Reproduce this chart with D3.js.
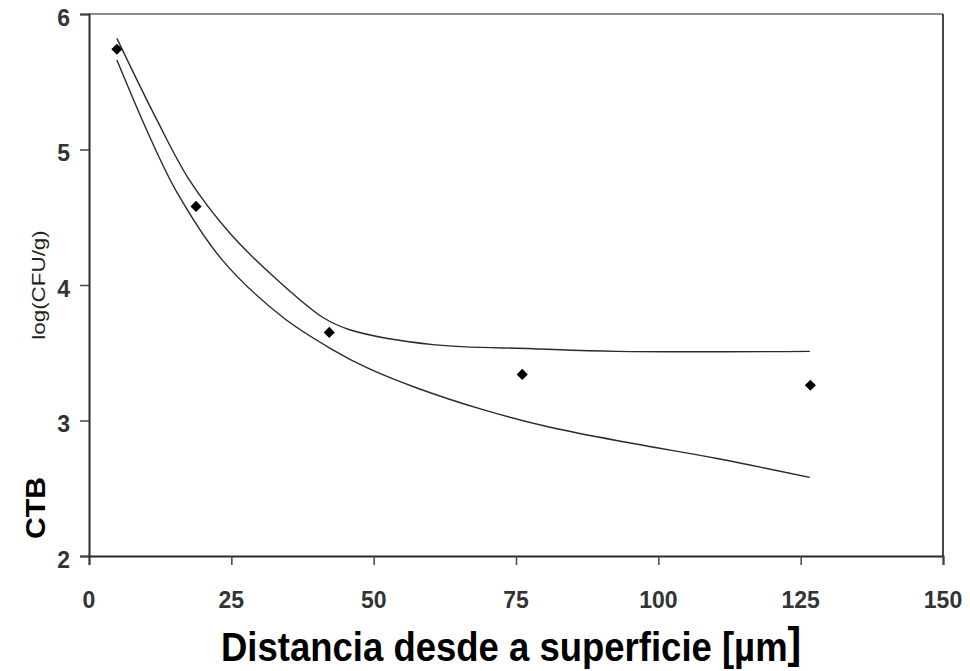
<!DOCTYPE html>
<html><head><meta charset="utf-8">
<script src="https://cdn.jsdelivr.net/npm/d3@7"></script>
<style>body{margin:0;background:#fff}svg{display:block}</style>
</head><body><svg id="c" width="970" height="671"></svg>
<script>
const xTicks = [0, 25, 50, 75, 100, 125, 150];
const yTicks = [2, 3, 4, 5, 6];
const pointX = [4.9, 18.8, 42.2, 76.1, 126.7];
const pointY = [5.74, 4.58, 3.65, 3.34, 3.26];
const upperX = [4.9, 11.9, 17.7, 24.8, 33.0, 41.1, 45.8, 60.4, 78.0, 92.7, 126.6];
const upperY = [5.82, 5.22, 4.77, 4.38, 4.04, 3.76, 3.67, 3.56, 3.53, 3.51, 3.51];
const lowerX = [4.9, 10.7, 15.5, 23.5, 34.1, 42.9, 48.8, 57.6, 69.2, 81.0, 95.6, 110.3, 126.6];
const lowerY = [5.66, 5.09, 4.68, 4.18, 3.76, 3.52, 3.39, 3.24, 3.08, 2.95, 2.83, 2.72, 2.58];
const xTitle = "Distancia desde a superficie [µm";
const yTitle = "log(CFU/g)";
const sideLabel = "CTB";

const svg = d3.select("#c");
const x = d3.scaleLinear().domain([0,150]).range([89,943]);
const y = d3.scaleLinear().domain([2,6]).range([556,14]);
const ink = "#2a2a2a";
const FF = "Liberation Sans, Arial, sans-serif";
const SY = 1.08;

// frame
svg.append("line").attr("x1",89).attr("x2",943).attr("y1",14).attr("y2",14).attr("stroke","#666").attr("stroke-width",1.5);
svg.append("line").attr("x1",943).attr("x2",943).attr("y1",14).attr("y2",556).attr("stroke","#333").attr("stroke-width",1.8);

const xa = svg.append("g").attr("transform","translate(0,556)")
  .call(d3.axisBottom(x).tickValues(xTicks).tickSize(9).tickFormat(""));
const ya = svg.append("g").attr("transform","translate(89,0)")
  .call(d3.axisLeft(y).tickValues(yTicks).tickSize(9).tickFormat(""));
[xa,ya].forEach(a=>{
  a.select(".domain").attr("stroke",ink).attr("stroke-width",2);
  a.selectAll(".tick line").attr("stroke","#444").attr("stroke-width",1.5);
});

svg.selectAll("text.xl").data(xTicks).enter().append("text").attr("class","xl")
  .attr("transform", d=>`translate(${x(d)},599) scale(1,${SY})`)
  .attr("text-anchor","middle").attr("dy","0.36em")
  .style("font-family",FF).style("font-size","23px").style("font-weight","bold").attr("fill","#333")
  .text(d=>d);
svg.selectAll("text.yl").data(yTicks).enter().append("text").attr("class","yl")
  .attr("transform", d=>`translate(70,${y(d)+3}) scale(1,${SY})`)
  .attr("text-anchor","end").attr("dy","0.36em")
  .style("font-family",FF).style("font-size","23px").style("font-weight","bold").attr("fill","#333")
  .text(d=>d);

const line = d3.line().curve(d3.curveCatmullRom.alpha(0.5)).x(d=>x(d[0])).y(d=>y(d[1]));
svg.append("path").attr("d", line(upperX.map((v,i)=>[v,upperY[i]])))
  .attr("fill","none").attr("stroke",ink).attr("stroke-width",1.4);
svg.append("path").attr("d", line(lowerX.map((v,i)=>[v,lowerY[i]])))
  .attr("fill","none").attr("stroke",ink).attr("stroke-width",1.4);

svg.selectAll("path.pt").data(pointX.map((v,i)=>[v,pointY[i]])).enter().append("path")
  .attr("class","pt").attr("d", d3.symbol(d3.symbolSquare, 62)())
  .attr("transform", d=>`translate(${x(d[0])},${y(d[1])}) rotate(45)`).attr("fill","#000");

svg.append("text").attr("transform",`translate(38,285) scale(1,1.18) rotate(-90)`).attr("text-anchor","middle")
  .attr("dy","0.36em")
  .style("font-family",FF).style("font-size","19px").attr("fill","#222").text(yTitle);
svg.append("text").attr("transform",`translate(35,508) scale(1,1.12) rotate(-90)`).attr("text-anchor","middle")
  .attr("dy","0.36em")
  .style("font-family",FF).style("font-size","27px").style("font-weight","bold").attr("fill","#000").text(sideLabel);

const xt = svg.append("text").attr("transform",`translate(221,661) scale(1,1.1)`)
  .style("font-family",FF).style("font-size","36.5px").style("font-weight","bold").attr("fill","#000");
xt.append("tspan").text(xTitle);
xt.append("tspan").style("font-size","41px").attr("dy",-3).text("]");
</script></body></html>
